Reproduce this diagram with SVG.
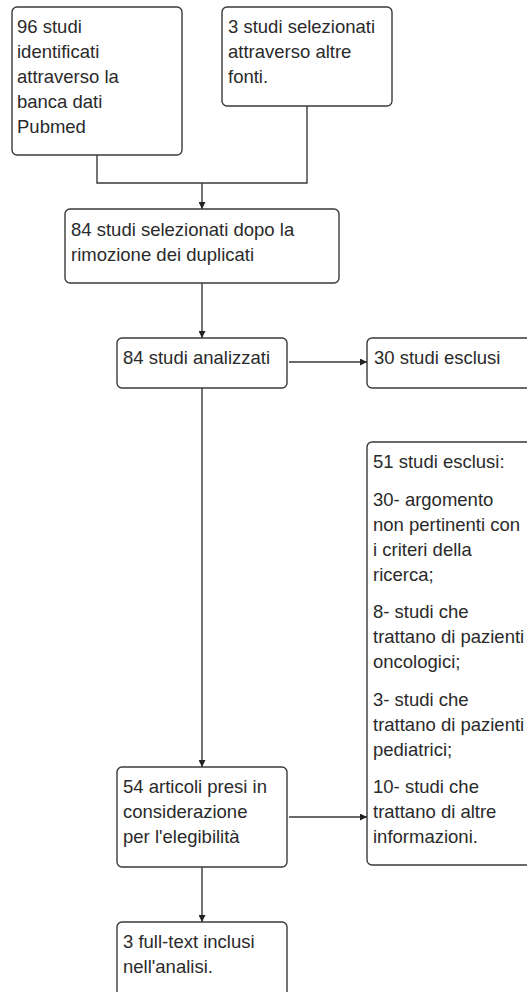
<svg xmlns="http://www.w3.org/2000/svg" width="527" height="992" viewBox="0 0 527 992">
<style>
.box{fill:#fff;stroke:#3a3a3a;stroke-width:1.4}
.t{font-family:"Liberation Sans",Arial,sans-serif;font-size:18.5px;fill:#2a2a2a}
.c{fill:none;stroke:#3a3a3a;stroke-width:1.4}
</style>
<defs>
<marker id="ah" viewBox="0 0 10 10" refX="10" refY="5" markerWidth="7" markerHeight="7" markerUnits="userSpaceOnUse" orient="auto">
<path d="M0,0 L10,5 L0,10 Z" fill="#222"/>
</marker>
</defs>
<rect width="527" height="992" fill="#fff"/>
<g id="connectors">
<path class="c" d="M97,155 V183 H307 V106"/>
<path class="c" d="M202,183 V209" marker-end="url(#ah)"/>
<path class="c" d="M202,283 V338" marker-end="url(#ah)"/>
<path class="c" d="M289,362 H367" marker-end="url(#ah)"/>
<path class="c" d="M202,388 V767" marker-end="url(#ah)"/>
<path class="c" d="M289,817 H367" marker-end="url(#ah)"/>
<path class="c" d="M202,867 V922" marker-end="url(#ah)"/>
</g>
<g id="n1">
<rect class="box" x="12" y="7" width="170" height="148" rx="5"/>
<text class="t"><tspan x="17" y="33">96 studi</tspan><tspan x="17" y="58">identificati</tspan><tspan x="17" y="83">attraverso la</tspan><tspan x="17" y="108">banca dati</tspan><tspan x="17" y="133">Pubmed</tspan></text>
</g>
<g id="n2">
<rect class="box" x="222" y="7" width="170" height="99" rx="5"/>
<text class="t"><tspan x="228" y="33">3 studi selezionati</tspan><tspan x="228" y="58">attraverso altre</tspan><tspan x="228" y="83">fonti.</tspan></text>
</g>
<g id="n3">
<rect class="box" x="65" y="209" width="274" height="74" rx="5"/>
<text class="t"><tspan x="71" y="236">84 studi selezionati dopo la</tspan><tspan x="71" y="261">rimozione dei duplicati</tspan></text>
</g>
<g id="n4">
<rect class="box" x="117" y="338" width="170" height="50" rx="5"/>
<text class="t" x="123" y="364">84 studi analizzati</text>
</g>
<g id="n5">
<rect class="box" x="367" y="338" width="200" height="50" rx="5"/>
<text class="t" x="374" y="364">30 studi esclusi</text>
</g>
<g id="n6">
<rect class="box" x="367" y="442" width="200" height="423" rx="5"/>
<text class="t"><tspan x="373" y="468">51 studi esclusi:</tspan><tspan x="373" y="505.5">30- argomento</tspan><tspan x="373" y="530.5">non pertinenti con</tspan><tspan x="373" y="555.5">i criteri della</tspan><tspan x="373" y="580.5">ricerca;</tspan><tspan x="373" y="618">8- studi che</tspan><tspan x="373" y="643">trattano di pazienti</tspan><tspan x="373" y="668">oncologici;</tspan><tspan x="373" y="705.5">3- studi che</tspan><tspan x="373" y="730.5">trattano di pazienti</tspan><tspan x="373" y="755.5">pediatrici;</tspan><tspan x="373" y="793">10- studi che</tspan><tspan x="373" y="818">trattano di altre</tspan><tspan x="373" y="843">informazioni.</tspan></text>
</g>
<g id="n7">
<rect class="box" x="117" y="767" width="170" height="100" rx="5"/>
<text class="t"><tspan x="123" y="793">54 articoli presi in</tspan><tspan x="123" y="818">considerazione</tspan><tspan x="123" y="843">per l'elegibilità</tspan></text>
</g>
<g id="n8">
<rect class="box" x="117" y="922" width="170" height="100" rx="5"/>
<text class="t"><tspan x="123" y="948">3 full-text inclusi</tspan><tspan x="123" y="973">nell'analisi.</tspan></text>
</g>
</svg>
